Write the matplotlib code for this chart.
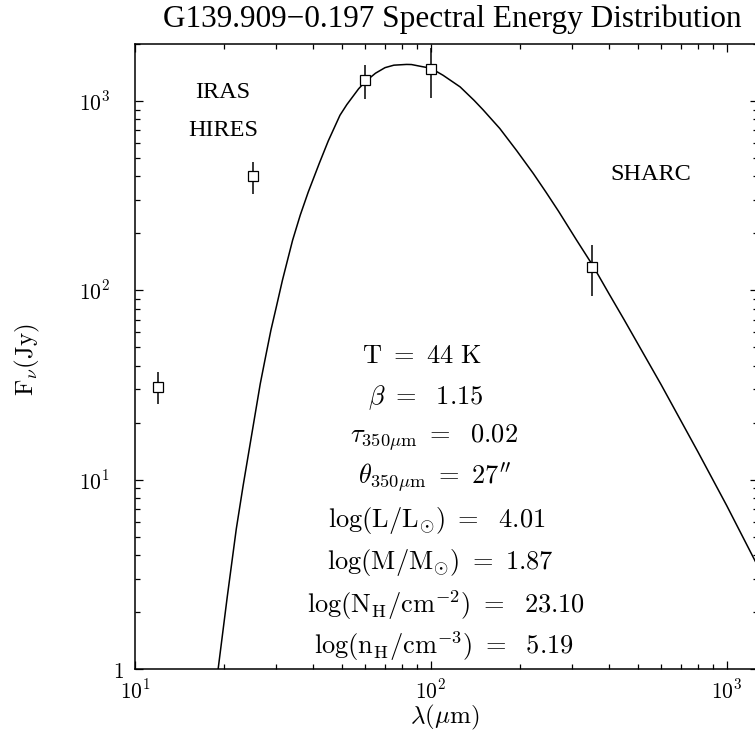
import numpy as np
import matplotlib
matplotlib.use("Agg")
import matplotlib.pyplot as plt
from matplotlib.ticker import LogLocator, NullFormatter, FixedLocator
import matplotlib.transforms as mtransforms

plt.rcParams['font.family'] = ['DejaVu Serif']
plt.rcParams['mathtext.fontset'] = 'cm'

# ---- data ----
wavelength = [12, 25, 60, 100, 350]          # micron
flux = [31, 400, 1290, 1470, 133]            # Jy
flux_err = [6, 78, 265, 430, 40]             # Jy

# model curve
curve_wl = [18, 19.1, 20.5, 22, 23.2, 24.3, 26.5, 27.6, 28.8, 30, 31.5, 32.8, 34.1,
            36.2, 38.5, 42, 45, 49.3, 52, 57, 60, 65, 70, 75, 82.8, 86, 93, 100,
            110, 125.6, 140, 150, 171, 195, 222, 245, 270, 311, 353, 400, 450, 600,
            800, 1000, 1250, 1300]
curve_flux = [0.45, 1.0, 2.4, 5.5, 9.3, 14.3, 32, 44.2, 61.6, 81, 113, 145, 184,
              250, 330, 470, 615, 841, 957, 1160, 1265, 1402, 1500, 1546, 1560, 1558,
              1521, 1490, 1367, 1187, 1008, 900, 716, 547, 414, 330, 262, 184, 135, 96,
              70, 31.8, 14, 7.3, 3.7, 3.3]

title = "G139.909\u22120.197 Spectral Energy Distribution"
instrument_labels = ["IRAS", "HIRES", "SHARC"]
fit_lines = [r"$\mathrm{T\ =\ 44\ K}$",
             r"$\beta\ =\ \ \mathrm{1.15}$",
             r"$\tau_{\mathrm{350}\mu\mathrm{m}}\ =\ \ \mathrm{0.02}$",
             r"$\theta_{\mathrm{350}\mu\mathrm{m}}\ =\ \mathrm{27}''$",
             r"$\mathrm{log(L/L_{\odot})}\ =\ \ \mathrm{4.01}$",
             r"$\mathrm{log(M/M_{\odot})\ =\ 1.87}$",
             r"$\mathrm{log(N_H/cm^{-2})}\ =\ \ \mathrm{23.10}$",
             r"$\mathrm{log(n_H/cm^{-3})}\ =\ \ \mathrm{5.19}$"]

W, H = 755, 738
fig = plt.figure(figsize=(W / 100, H / 100), dpi=100)
ax = fig.add_axes([135 / W, 1 - 669 / H, 623 / W, 625 / H])
ax.set_xscale('log')
ax.set_yscale('log')
ax.set_xlim(10, 1276)
ax.set_ylim(1, 2000)

ax.plot(curve_wl, curve_flux, color='black', lw=1.1, clip_on=True)
ax.errorbar(wavelength, flux, yerr=flux_err, fmt='s', mfc='white', mec='black',
            mew=0.9, ms=7.5, ecolor='black', elinewidth=1.1, capsize=0, zorder=3)

for s in ax.spines.values():
    s.set_linewidth(1.1)

ax.xaxis.set_major_locator(FixedLocator([10, 100, 1000]))
ax.yaxis.set_major_locator(FixedLocator([1, 10, 100, 1000]))
ax.xaxis.set_minor_locator(LogLocator(base=10, subs=np.arange(2, 10)))
ax.yaxis.set_minor_locator(LogLocator(base=10, subs=np.arange(2, 10)))
ax.xaxis.set_minor_formatter(NullFormatter())
ax.yaxis.set_minor_formatter(NullFormatter())
ax.set_xticklabels([r"$10^{1}$", r"$10^{2}$", r"$10^{3}$"])
ax.set_yticklabels([r"$1$", r"$10^{1}$", r"$10^{2}$", r"$10^{3}$"])
ax.tick_params(which='both', direction='in', top=True, right=True, width=0.9,
               labelsize=15.5)
ax.tick_params(which='major', length=6)
ax.tick_params(which='minor', length=3.5)
ax.tick_params(axis='x', pad=8)
ax.tick_params(axis='y', pad=18)
ylabs = ax.get_yticklabels()
ylabs[0].set_transform(ylabs[0].get_transform() +
                       mtransforms.ScaledTranslation(14 / 100, 0, fig.dpi_scale_trans))


def fx(px):
    return px / W


def fy(py):
    return 1 - py / H


fig.text(fx(452), fy(19), title, ha='center', va='center', fontsize=22.5,
         family='Liberation Serif')
fig.text(fx(445), fy(717), r"$\lambda(\mu\mathrm{m})$", ha='center', va='center',
         fontsize=18)
fig.text(fx(27), fy(360), r"$\mathrm{F}_{\nu}\mathrm{(Jy)}$", ha='center', va='center',
         fontsize=18, rotation=90)

fig.text(fx(223), fy(92), instrument_labels[0], ha='center', va='center', fontsize=17.5,
         family='Liberation Serif')
fig.text(fx(223), fy(130), instrument_labels[1], ha='center', va='center', fontsize=17.5,
         family='Liberation Serif')
fig.text(fx(651), fy(174), instrument_labels[2], ha='center', va='center', fontsize=17.5,
         family='Liberation Serif')

centers = [422, 426, 434, 435, 437, 440, 446, 444]
ys = [356, 398, 438, 478, 521, 563, 605, 646]
for t, cx, cy in zip(fit_lines, centers, ys):
    fig.text(fx(cx), fy(cy), t, ha='center', va='center', fontsize=19)

fig.savefig("out.png", dpi=100)
